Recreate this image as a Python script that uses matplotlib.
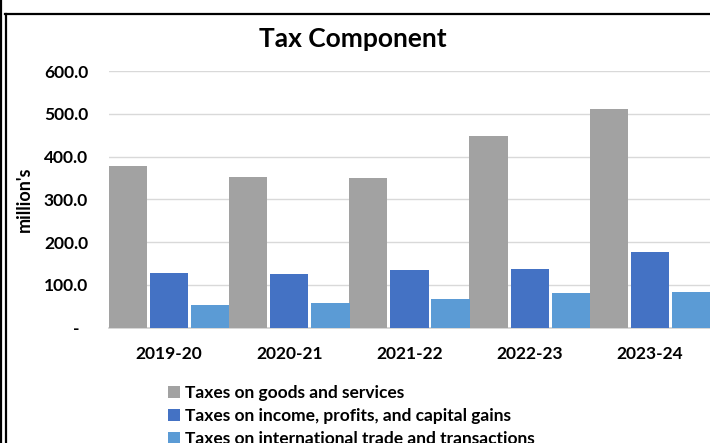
import numpy as np
import matplotlib.pyplot as plt
from matplotlib.lines import Line2D

plt.rcParams['font.family'] = ['Lato', 'DejaVu Sans']
plt.rcParams['font.weight'] = 'bold'

years = ['2019-20', '2020-21', '2021-22', '2022-23', '2023-24']
goods_services = [378.0, 352.0, 350.0, 448.0, 512.0]
income_profits = [128.5, 126.0, 135.5, 138.0, 177.5]
intl_trade = [53.5, 58.5, 66.0, 82.0, 84.0]

series = [
    ('Taxes on goods and services', goods_services, '#a2a2a2'),
    ('Taxes on income, profits, and capital gains', income_profits, '#4472c4'),
    ('Taxes on international trade and transactions', intl_trade, '#5b9bd5'),
]

fig = plt.figure(figsize=(7.10, 4.43), dpi=100)
ax = fig.add_axes([0.1535, 0.2603, 0.8465, 0.5794])

x = np.arange(len(years))
step = 0.342
width = 0.318
for i, (label, vals, color) in enumerate(series):
    ax.bar(x + (i - 1) * step, vals, width, color=color, label=label, zorder=3)

ax.set_xlim(-0.5, 4.5)
ax.set_ylim(0, 600)
ax.set_yticks(np.arange(0, 601, 100))
# accounting-style zero: a dash padded away from the axis
ax.set_yticklabels(['-  '] + [f'{v:.1f}' for v in range(100, 601, 100)])
ax.set_xticks(x)
ax.set_xticklabels(years)
ax.tick_params(axis='y', length=0, labelsize=12.5, pad=15)
ax.tick_params(axis='x', length=0, labelsize=12.5, pad=13)
for lbl in ax.get_yticklabels() + ax.get_xticklabels():
    lbl.set_fontweight('bold')

ax.grid(axis='y', color='#d9d9d9', linewidth=1.0, zorder=0)
for side in ['top', 'right', 'left']:
    ax.spines[side].set_visible(False)
ax.spines['bottom'].set_color('#d0d0d0')
ax.spines['bottom'].set_linewidth(1.2)

ax.set_ylabel("million's", fontsize=13, fontweight='bold')
ax.yaxis.set_label_coords(-0.127, 0.5)

fig.text(0.497, 0.913, 'Tax Component', ha='center', va='center',
         fontsize=19, fontweight='bold')

ax.legend(loc='upper left', bbox_to_anchor=(168 / 710, 58 / 443),
          bbox_transform=fig.transFigure, frameon=False, fontsize=12.5,
          handlelength=0.7, handleheight=0.7, handletextpad=0.3,
          labelspacing=0.4, borderaxespad=0, borderpad=0)

# chart frame
fig.add_artist(Line2D([1.5 / 710, 1.5 / 710], [0, 1], color='black', lw=1.6))
fig.add_artist(Line2D([6 / 710, 6 / 710], [0, 1 - 13.5 / 443], color='black', lw=1.6))
fig.add_artist(Line2D([5 / 710, 1], [1 - 13.5 / 443, 1 - 13.5 / 443], color='black', lw=1.6))

fig.savefig('out.png', dpi=100)
